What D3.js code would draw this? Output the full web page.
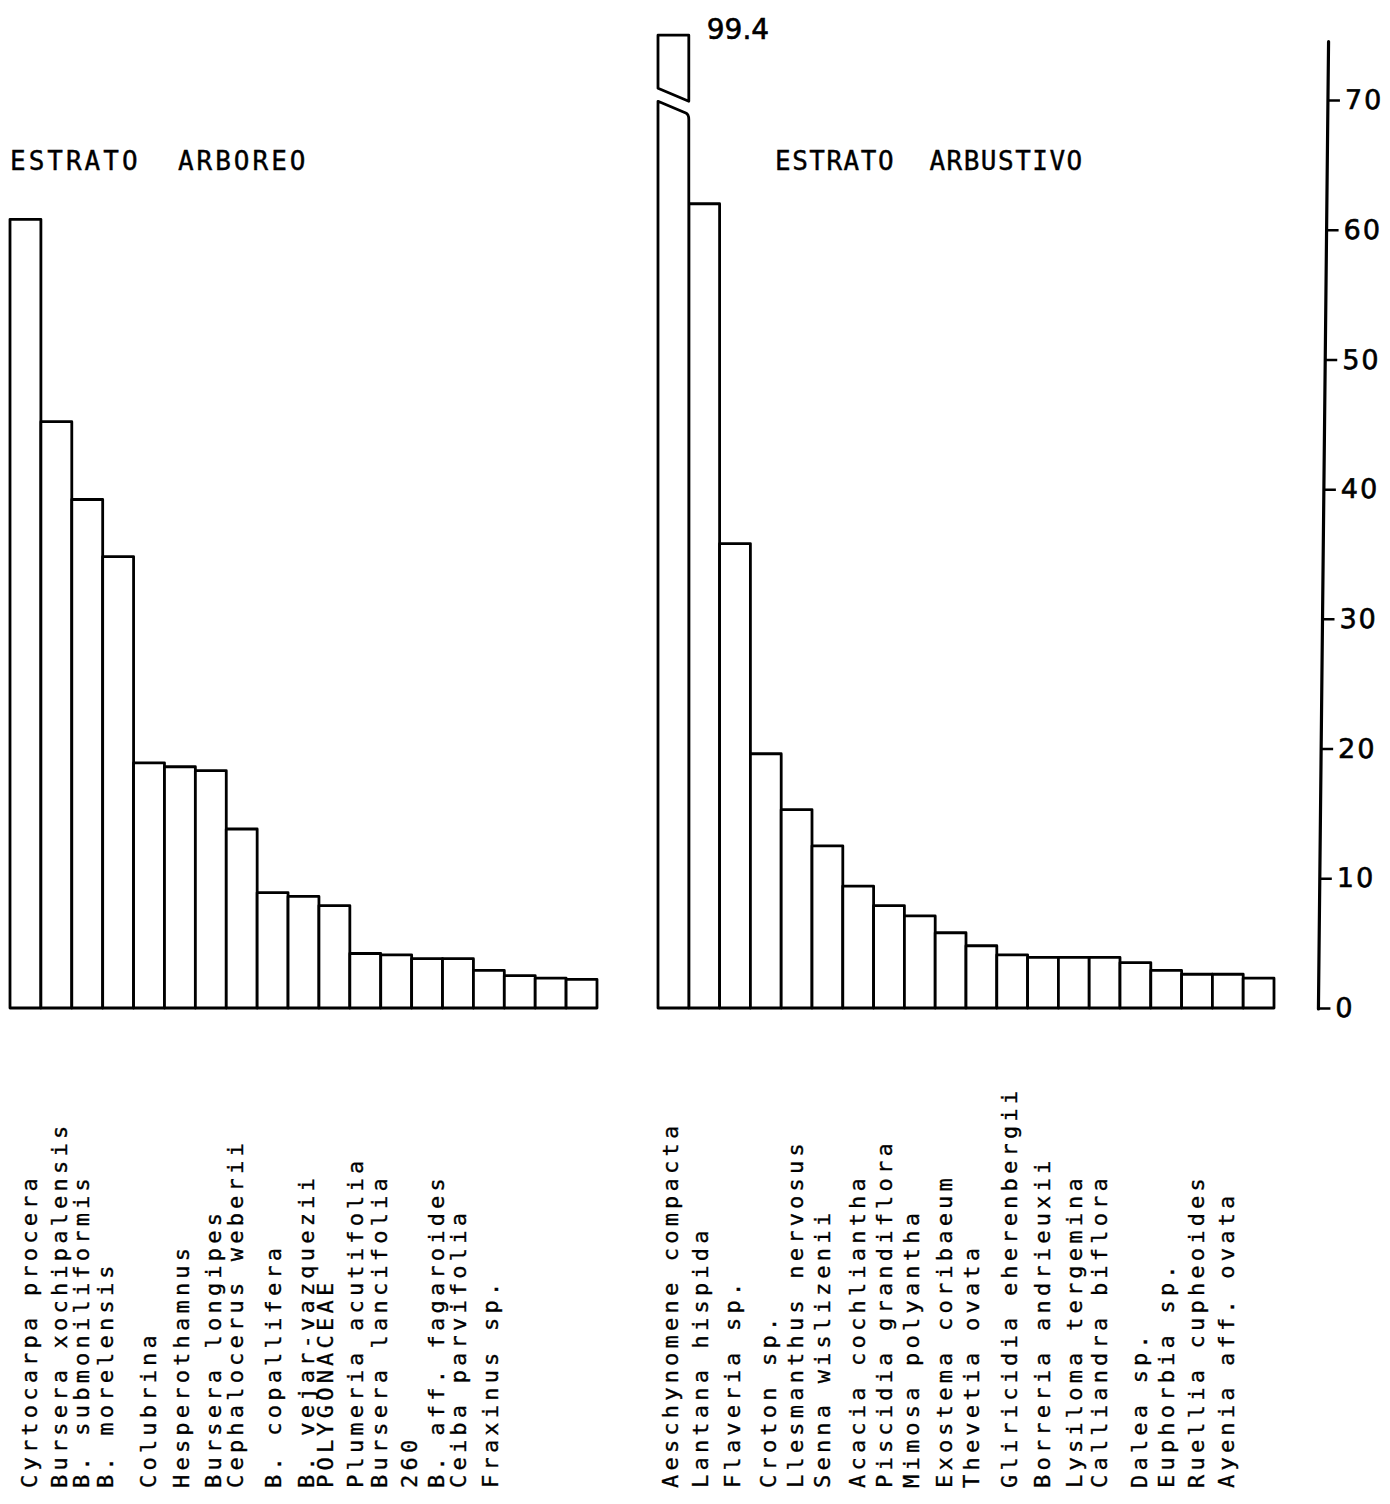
<!DOCTYPE html>
<html>
<head>
<meta charset="utf-8">
<script src="https://cdn.jsdelivr.net/npm/d3@7/dist/d3.min.js"></script>
<style>
  body { margin: 0; background: #fff; }
</style>
</head>
<body>
<svg id="chart" width="1390" height="1504"></svg>
<script>
// estrato arboreo: bar heights (left to right)
var arboreoValues = [60.8, 45.2, 39.2, 34.8, 18.9, 18.6, 18.3, 13.8, 8.9, 8.6, 7.9, 4.2, 4.1, 3.8, 3.8, 2.9, 2.5, 2.3, 2.2];
var arboreoNames = ['Cyrtocarpa procera', 'Bursera xochipalensis', 'B. submoniliformis', 'B. morelensis',
  'Colubrina', 'Hesperothamnus', 'Bursera longipes', 'Cephalocerus weberii', 'B. copallifera',
  'B. vejar-vazquezii', 'POLYGONACEAE', 'Plumeria acutifolia', 'Bursera lancifolia', '260',
  'B. aff. fagaroides', 'Ceiba parvifolia', 'Fraxinus sp.'];
// typewriter half-line stops of each name
var arboreoLines = [0, 2.75, 4.75, 7, 11, 14, 17, 19, 22.5, 25.5, 27.25, 30, 32.25, 35, 37.5, 39.5, 42.5];

// estrato arbustivo
var arbustivoValues = [99.4, 62.0, 35.8, 19.6, 15.3, 12.5, 9.4, 7.9, 7.1, 5.8, 4.8, 4.1, 3.9, 3.9, 3.9, 3.5, 2.9, 2.6, 2.6, 2.3];
var arbustivoNames = ['Aeschynomene compacta', 'Lantana hispida', 'Flaveria sp.', 'Croton sp.',
  'Llesmanthus nervosus', 'Senna wislizenii', 'Acacia cochliantha', 'Piscidia grandiflora',
  'Mimosa polyantha', 'Exostema coribaeum', 'Thevetia ovata', 'Gliricidia eherenbergii',
  'Borreria andrieuxii', 'Lysiloma tergemina', 'Calliandra biflora', 'Dalea sp.', 'Euphorbia sp.',
  'Ruellia cupheoides', 'Ayenia aff. ovata'];
var arbustivoLines = [0, 2.75, 5.75, 9, 11.5, 14, 17.25, 19.75, 22.25, 25.25, 27.75, 31.25, 34.25, 37.25, 39.5, 43.25, 45.75, 48.5, 51.25];

var yTicks = [0, 10, 20, 30, 40, 50, 60, 70];

var svg = d3.select('#chart');
var y = d3.scaleLinear().domain([0, 70]).range([1008, 100]);
var lineStep = d3.scaleLinear().domain([0, 1]).range([0, 10.85]);

var typeFont = "'DejaVu Sans Mono', monospace";
var letterFont = "'DejaVu Sans', sans-serif";

function drawBars(values, x0, x1) {
  var x = d3.scaleBand().domain(d3.range(values.length)).range([x0, x1]).paddingInner(0);
  var g = svg.append('g')
    .attr('fill', '#fff').attr('stroke', '#000').attr('stroke-width', 2.8)
    .attr('stroke-linejoin', 'round');
  var rows = values.map(function(v, i) { return { v: v, i: i }; });
  g.selectAll('rect')
    .data(rows.filter(function(d) { return d.v <= 70; }))
    .enter()
    .append('rect')
    .attr('x', function(d) { return x(d.i); })
    .attr('y', function(d) { return y(d.v); })
    .attr('width', x.bandwidth())
    .attr('height', function(d) { return y(0) - y(d.v); });
  // bar taller than the scale: cut, with the top piece floating above
  rows.filter(function(d) { return d.v > 70; }).forEach(function(d) {
    var a = x(d.i), b = x(d.i) + x.bandwidth();
    g.append('path')
      .attr('d', 'M' + a + ',' + y(0) + 'V' + y(69.9) + 'L' + (b - 3) + ',' + y(69.0) +
        'Q' + b + ',' + y(68.9) + ' ' + b + ',' + y(68.5) + 'V' + y(0) + 'Z');
    g.append('path')
      .attr('d', 'M' + a + ',' + y(70.9) + 'V' + y(75) + 'H' + b + 'V' + y(69.9) + 'Z');
    svg.append('text')
      .attr('x', b + 18).attr('y', y(75) + 4)
      .attr('font-family', letterFont).attr('font-size', 28)
      .attr('stroke', '#000').attr('stroke-width', 0.6)
      .text(d3.format('.1f')(d.v));
  });
}

drawBars(arboreoValues, 10, 597);
drawBars(arbustivoValues, 658, 1274);

// titles
svg.append('text').attr('x', 10).attr('y', 170)
  .attr('font-family', typeFont).attr('font-size', 26).attr('letter-spacing', 3)
  .attr('stroke', '#000').attr('stroke-width', 0.4)
  .style('white-space', 'pre')
  .text('ESTRATO  ARBOREO');
svg.append('text').attr('x', 775).attr('y', 170)
  .attr('font-family', typeFont).attr('font-size', 26).attr('letter-spacing', 1.5)
  .attr('stroke', '#000').attr('stroke-width', 0.4)
  .style('white-space', 'pre')
  .text('ESTRATO  ARBUSTIVO');

// species names, typed sideways
function drawNames(names, lines, start) {
  svg.append('g').selectAll('text')
    .data(names)
    .enter()
    .append('text')
    .attr('transform', function(d, i) {
      return 'translate(' + (start + lineStep(lines[i])) + ',1488) rotate(-90)';
    })
    .attr('font-family', typeFont).attr('font-size', 22).attr('letter-spacing', 4.2)
    .attr('stroke', '#000').attr('stroke-width', 0.35)
    .text(function(d) { return d; });
}
drawNames(arboreoNames, arboreoLines, 37);
drawNames(arbustivoNames, arbustivoLines, 678);

// vertical axis on the right, drawn slightly slanted like the original
var axisG = svg.append('g').attr('transform', 'translate(1329,0) skewX(-0.6)');
axisG.call(d3.axisRight(y).tickValues(yTicks).tickSize(12).tickSizeOuter(0).tickPadding(5)
  .tickFormat(d3.format('d')));
axisG.select('.domain').remove();
axisG.append('line')
  .attr('x1', 0).attr('x2', 0).attr('y1', y(0) + 1).attr('y2', y(74.5))
  .attr('stroke', '#000').attr('stroke-width', 3.2).attr('stroke-linecap', 'round');
axisG.selectAll('.tick line').attr('stroke', '#000').attr('stroke-width', 2.5);
axisG.selectAll('.tick text')
  .attr('font-family', letterFont).attr('font-size', 27).attr('letter-spacing', 2)
  .attr('fill', '#000').attr('stroke', '#000').attr('stroke-width', 0.6);
</script>
</body>
</html>
